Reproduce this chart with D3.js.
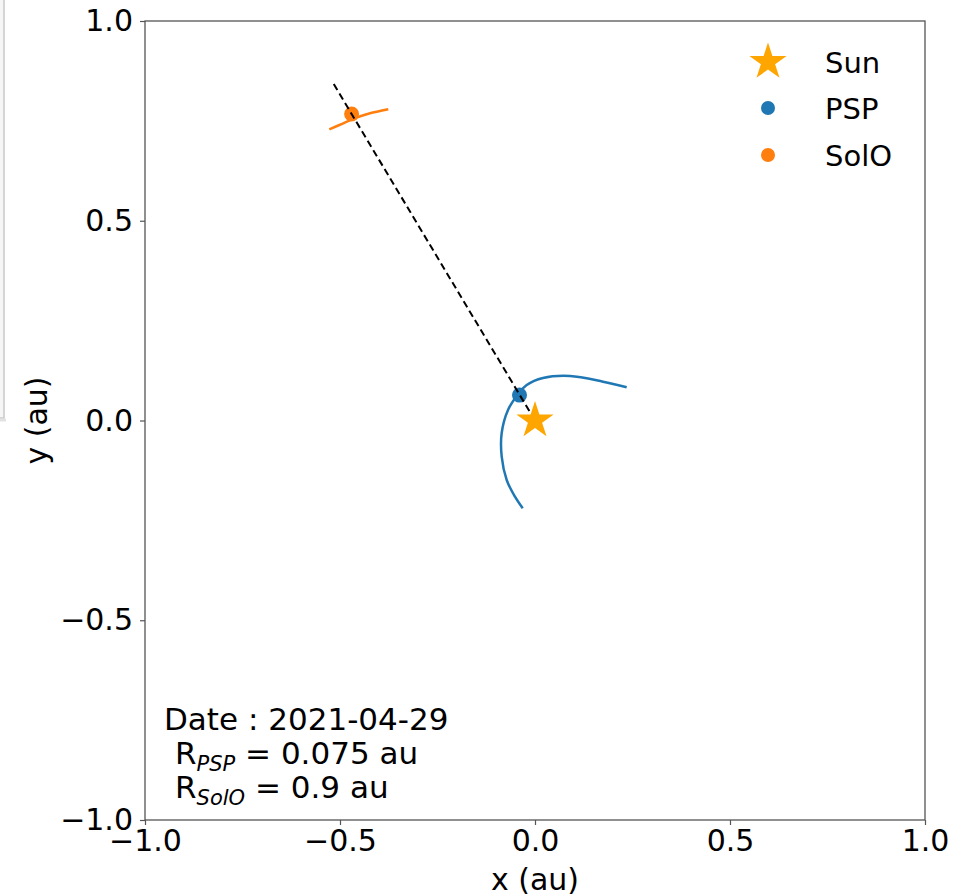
<!DOCTYPE html>
<html>
<head>
<meta charset="utf-8">
<script src="https://cdn.jsdelivr.net/npm/d3@7"></script>
<style>
  html, body { margin: 0; padding: 0; background: #fff; }
  svg { display: block; font-family: "DejaVu Sans", sans-serif; }
</style>
</head>
<body>
<svg id="chart" width="953" height="895"></svg>
<script>
// Axis setup
const xDomain = [-1, 1];
const yDomain = [-1, 1];
const xTicks = [-1, -0.5, 0, 0.5, 1];
const yTicks = [-1, -0.5, 0, 0.5, 1];

// Parker Solar Probe track around the current date (au)
const pspTrackX = [0.2351, 0.1744, 0.0897, 0.0205, -0.0213, -0.0410, -0.0692, -0.0854, -0.0854, -0.0726, -0.0513, -0.0315];
const pspTrackY = [0.0831, 0.0971, 0.1114, 0.1064, 0.0889, 0.0688, 0.0263, -0.0313, -0.0906, -0.1489, -0.1907, -0.2198];

// Solar Orbiter track around the current date (au)
const soloTrackX = [-0.5274, -0.4915, -0.4556, -0.4231, -0.3762];
const soloTrackY = [0.7289, 0.7439, 0.7590, 0.7690, 0.7790];

// Spacecraft positions: heliocentric distance (au) and longitude (deg)
const craftNames = ["PSP", "SolO"];
const craftRadius = [0.075, 0.9];
const craftLongitude = [122, 121.5];
const craftColors = ["#1f77b4", "#ff7f0e"];

// Radial alignment line through both spacecraft
const alignRadius = [0, 0.99];
const alignLongitude = 121.5;

const dateLabel = "2021-04-29";
const sunColor = "#ffa500";

const svg = d3.select("#chart");
const plot = { left: 145, right: 925, top: 21, bottom: 820 };

const x = d3.scaleLinear().domain(xDomain).range([plot.left, plot.right]);
const y = d3.scaleLinear().domain(yDomain).range([plot.bottom, plot.top]);

// Small window edge at the left margin
svg.append("rect").attr("x", -10).attr("y", -10).attr("width", 14).attr("height", 428)
  .attr("fill", "#f6f6f6").attr("stroke", "#c8c8c8").attr("stroke-width", 1.5);
svg.append("line").attr("x1", 0).attr("x2", 6).attr("y1", 420).attr("y2", 420)
  .attr("stroke", "#e2e2e2").attr("stroke-width", 3);

const tickFont = 30;

// Axes
const xAxis = d3.axisBottom(x).tickValues(xTicks).tickFormat(d3.format(".1f")).tickSizeOuter(0).tickSize(5).tickPadding(5);
const yAxis = d3.axisLeft(y).tickValues(yTicks).tickFormat(d3.format(".1f")).tickSizeOuter(0).tickSize(5).tickPadding(7);

const gx = svg.append("g").attr("transform", `translate(0,${plot.bottom})`).call(xAxis);
const gy = svg.append("g").attr("transform", `translate(${plot.left},0)`).call(yAxis);
[gx, gy].forEach(g => {
  g.select(".domain").remove();
  g.selectAll(".tick line").attr("stroke", "#555").attr("stroke-width", 1.2);
  g.selectAll(".tick text").attr("fill", "#000").style("font-size", tickFont + "px")
    .style("font-family", "DejaVu Sans, sans-serif");
});

// Frame
svg.append("rect")
  .attr("x", plot.left).attr("y", plot.top)
  .attr("width", plot.right - plot.left).attr("height", plot.bottom - plot.top)
  .attr("fill", "none").attr("stroke", "#555").attr("stroke-width", 1.3);

// Axis titles
svg.append("text").attr("x", (plot.left + plot.right) / 2).attr("y", 890)
  .attr("text-anchor", "middle").style("font-size", tickFont + "px").text("x (au)");
svg.append("text").attr("transform", `translate(47,${(plot.top + plot.bottom) / 2}) rotate(-90)`)
  .attr("text-anchor", "middle").style("font-size", tickFont + "px").text("y (au)");

const line = d3.line().x(d => x(d[0])).y(d => y(d[1])).curve(d3.curveCatmullRom);

// Spacecraft tracks
svg.append("path").datum(d3.zip(pspTrackX, pspTrackY)).attr("d", line)
  .attr("fill", "none").attr("stroke", craftColors[0]).attr("stroke-width", 2.5);
svg.append("path").datum(d3.zip(soloTrackX, soloTrackY)).attr("d", line)
  .attr("fill", "none").attr("stroke", craftColors[1]).attr("stroke-width", 2.5);

// Spacecraft markers
const rad = Math.PI / 180;
const craft = craftNames.map((n, i) => ({
  name: n,
  x: craftRadius[i] * Math.cos(craftLongitude[i] * rad),
  y: craftRadius[i] * Math.sin(craftLongitude[i] * rad),
  color: craftColors[i]
}));
svg.selectAll("circle.craft").data(craft).join("circle")
  .attr("class", "craft")
  .attr("cx", d => x(d.x)).attr("cy", d => y(d.y)).attr("r", 7.5)
  .attr("fill", d => d.color);

// Alignment line
const alignPts = alignRadius.map(r => [r * Math.cos(alignLongitude * rad), r * Math.sin(alignLongitude * rad)]);
svg.append("path").datum(alignPts).attr("d", d3.line().x(d => x(d[0])).y(d => y(d[1])))
  .attr("fill", "none").attr("stroke", "#000").attr("stroke-width", 2)
  .attr("stroke-dasharray", "7,4");

// Sun
const star = d3.symbol().type(d3.symbolStar).size(430);
svg.append("path").attr("d", star()).attr("transform", `translate(${x(0)},${y(0)})`)
  .attr("fill", sunColor);

// Legend
const legendX = 768, legendTextX = 825, legendFont = 29;
const legendRows = [
  { label: "Sun", y: 62, kind: "star", color: sunColor },
  { label: craftNames[0], y: 108, kind: "dot", color: craftColors[0] },
  { label: craftNames[1], y: 155, kind: "dot", color: craftColors[1] }
];
legendRows.forEach(r => {
  if (r.kind === "star") {
    svg.append("path").attr("d", star()).attr("transform", `translate(${legendX},${r.y})`).attr("fill", r.color);
  } else {
    svg.append("circle").attr("cx", legendX).attr("cy", r.y).attr("r", 7).attr("fill", r.color);
  }
  svg.append("text").attr("x", legendTextX).attr("y", r.y + 11)
    .style("font-size", legendFont + "px").text(r.label);
});

// Info box
const infoFont = 31;
svg.append("text").attr("x", 164).attr("y", 730).style("font-size", infoFont + "px")
  .text("Date : " + dateLabel);
craft.forEach((c, i) => {
  const t = svg.append("text").attr("x", 175).attr("y", 764 + i * 34).style("font-size", infoFont + "px");
  t.append("tspan").text("R");
  t.append("tspan").attr("dy", 7).style("font-size", "21px").style("font-style", "italic").text(c.name);
  t.append("tspan").attr("dy", -7).text(" = " + craftRadius[i] + " au");
});
</script>
</body>
</html>
